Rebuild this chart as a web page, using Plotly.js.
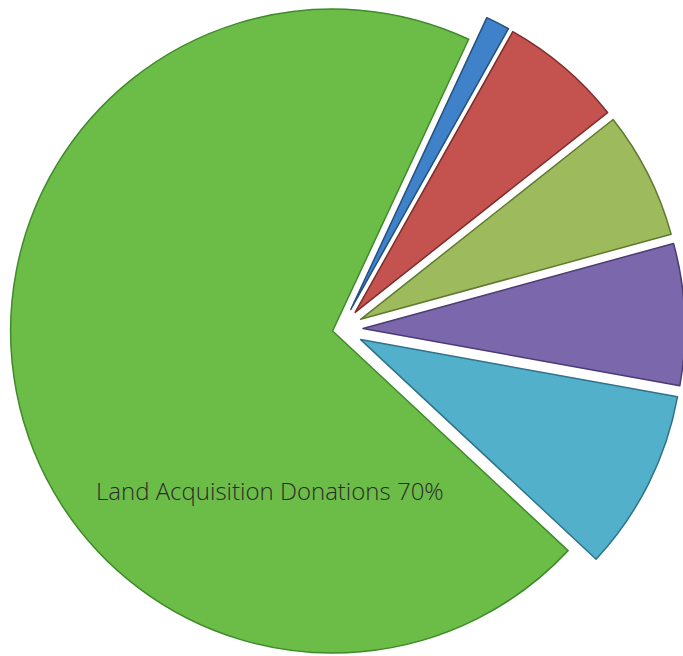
<!DOCTYPE html>
<html>
<head>
<meta charset="utf-8">
<script src="https://cdn.plot.ly/plotly-3.0.1.min.js"></script>
<style>
  html, body { margin: 0; padding: 0; width: 683px; height: 656px; overflow: hidden; background: #ffffff; }
  #chart { position: absolute; left: -4px; top: -15px; width: 689px; height: 689px; }
</style>
</head>
<body>
<div id="chart"></div>
<script>
// Data
var labels = ["Land Acquisition Donations", "Slice 2", "Slice 3", "Slice 4", "Slice 5", "Slice 6"];
var values = [70, 1.2, 6.2, 6.4, 7.1, 9.1];
var sliceColors = ["#6bbd47", "#3f82c9", "#c4524f", "#9dbb5c", "#7b67ac", "#52b0cb"];
var edgeColors  = ["#3f8a2a", "#24507f", "#7e2c2a", "#5f7a2f", "#4a3b72", "#2f7389"];
var pulls = [0.025, 0.07, 0.07, 0.07, 0.07, 0.07];

var W = 689, H = 689, offX = -4, offY = -15;

var trace = {
  type: "pie",
  labels: labels,
  values: values,
  sort: false,
  direction: "clockwise",
  rotation: 133,
  pull: pulls,
  textinfo: "none",
  hoverinfo: "label+percent",
  showlegend: false,
  marker: {
    colors: sliceColors,
    line: { color: edgeColors, width: 1.5 }
  },
  domain: { x: [0, 1], y: [0, 1] }
};

var layout = {
  width: W,
  height: H,
  margin: { l: 0, r: 0, t: 0, b: 0, pad: 0 },
  paper_bgcolor: "#ffffff",
  plot_bgcolor: "#ffffff",
  showlegend: false,
  annotations: [{
    xref: "paper", yref: "paper",
    x: (270 - offX) / W, y: 1 - (490 - offY) / H,
    xanchor: "center", yanchor: "middle",
    text: labels[0] + " " + values[0] + "%",
    showarrow: false,
    font: { family: "Open Sans, Noto Sans, sans-serif", size: 24, weight: 300, color: "#2b2b2b" }
  }]
};

Plotly.newPlot("chart", [trace], layout, { staticPlot: true, displayModeBar: false });
</script>
</body>
</html>
